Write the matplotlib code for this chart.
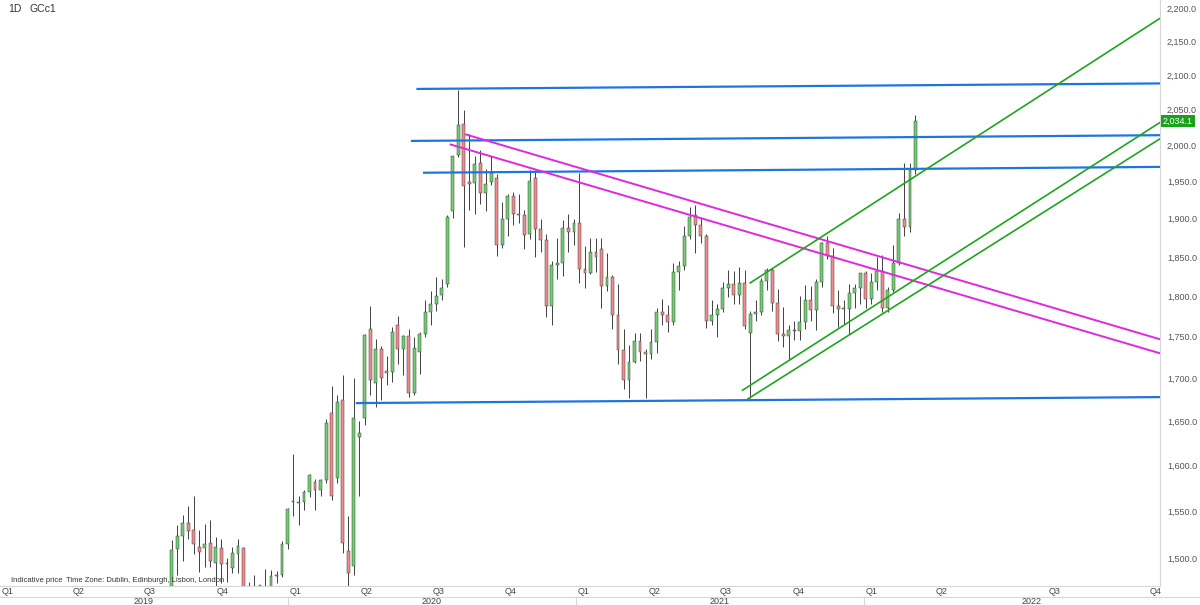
import numpy as np
import pandas as pd
import matplotlib
matplotlib.use('Agg')
import matplotlib.pyplot as plt
import matplotlib.transforms as mtransforms
from matplotlib.ticker import FixedLocator, FuncFormatter, NullLocator
from matplotlib.lines import Line2D

plt.rcParams['font.family'] = ['Liberation Sans', 'DejaVu Sans']

# GCc1 weekly OHLC, weeks starting 2019-07-29
opens = [1420, 1442, 1509, 1523, 1537, 1530, 1512, 1511, 1516, 1495, 1511, 1494, 1490, 1504,
         1510, 1460, 1468, 1462, 1470, 1465, 1481, 1482, 1515,
         1560, 1559, 1560, 1571, 1582, 1573, 1584, 1660, 1586, 1675, 1507, 1492, 1632, 1654,
         1760, 1695, 1735, 1707, 1708, 1764, 1735, 1751, 1683, 1732, 1753, 1780, 1790, 1802,
         1815, 1910, 1986, 2030, 1950, 1948, 1975, 1934, 1950, 1955, 1866, 1900, 1930, 1906,
         1905, 1880, 1955, 1886, 1872, 1788, 1840, 1843, 1888, 1883,
         1895, 1835, 1830, 1857, 1860, 1813, 1824, 1777, 1734, 1698, 1720, 1745, 1732, 1729,
         1744, 1780, 1777, 1768, 1831, 1838, 1877, 1905, 1892, 1877, 1769, 1777, 1784, 1810,
         1815, 1802, 1817, 1755, 1778, 1781, 1819, 1833, 1792, 1754, 1751, 1758, 1757, 1768,
         1796, 1783, 1818, 1868, 1852, 1788, 1784, 1784, 1804, 1811,
         1829, 1797, 1818, 1832, 1786, 1808, 1842, 1900, 1889, 1966]
highs = [1452, 1519, 1535, 1546, 1555, 1566, 1530, 1536, 1540, 1522, 1520, 1500, 1512, 1520,
         1512, 1475, 1482, 1472, 1489, 1487, 1486, 1518, 1553,
         1613, 1566, 1573, 1590, 1585, 1585, 1653, 1691, 1680, 1704, 1545, 1700, 1650, 1753,
         1788, 1747, 1739, 1727, 1762, 1775, 1752, 1760, 1750, 1756, 1796, 1807, 1824, 1822,
         1905, 1985, 2078, 2050, 2015, 1985, 1993, 1967, 1985, 1960, 1922, 1933, 1936, 1933,
         1912, 1966, 1966, 1900, 1880, 1845, 1875, 1898, 1907, 1900,
         1962, 1864, 1875, 1875, 1875, 1855, 1827, 1815, 1760, 1740, 1755, 1755, 1735, 1759,
         1785, 1797, 1789, 1843, 1845, 1890, 1916, 1919, 1903, 1880, 1795, 1790, 1818, 1834,
         1832, 1837, 1834, 1782, 1796, 1823, 1836, 1836, 1809, 1787, 1764, 1770, 1800, 1814,
         1813, 1822, 1870, 1877, 1862, 1808, 1795, 1815, 1815, 1830,
         1832, 1830, 1850, 1853, 1812, 1865, 1908, 1976, 1975, 2042]
lows = [1400, 1440, 1482, 1497, 1520, 1504, 1485, 1491, 1491, 1459, 1474, 1475, 1484, 1484,
        1456, 1445, 1458, 1453, 1458, 1460, 1474, 1480, 1509,
        1545, 1535, 1551, 1565, 1551, 1566, 1580, 1562, 1580, 1505, 1451, 1482, 1566, 1646,
        1680, 1666, 1675, 1692, 1696, 1717, 1704, 1678, 1680, 1705, 1750, 1764, 1782, 1796,
        1812, 1901, 1983, 1863, 1912, 1906, 1920, 1910, 1945, 1851, 1862, 1877, 1892, 1895,
        1860, 1874, 1850, 1856, 1774, 1764, 1822, 1826, 1857, 1865,
        1817, 1810, 1828, 1831, 1785, 1807, 1759, 1717, 1687, 1677, 1718, 1721, 1677, 1723,
        1730, 1765, 1756, 1765, 1808, 1833, 1874, 1855, 1868, 1761, 1765, 1750, 1780, 1799,
        1790, 1791, 1760, 1677, 1770, 1777, 1808, 1782, 1745, 1738, 1722, 1746, 1746, 1760,
        1770, 1758, 1812, 1847, 1779, 1762, 1766, 1753, 1785, 1790,
        1785, 1791, 1808, 1781, 1780, 1806, 1840, 1878, 1882, 1960]
closes = [1440, 1508, 1523, 1537, 1529, 1515, 1506, 1515, 1497, 1512, 1494, 1494, 1505, 1513,
          1462, 1468, 1463, 1472, 1465, 1481, 1481, 1515, 1552,
          1560, 1560, 1571, 1589, 1573, 1584, 1648, 1566, 1672, 1516, 1484, 1654, 1637, 1752,
          1698, 1735, 1700, 1709, 1756, 1735, 1751, 1683, 1737, 1753, 1780, 1790, 1801, 1810,
          1902, 1985, 2028, 1944, 1947, 1974, 1934, 1947, 1962, 1866, 1900, 1930, 1906, 1905,
          1879, 1951, 1886, 1872, 1788, 1840, 1843, 1888, 1883, 1895,
          1835, 1830, 1857, 1850, 1813, 1824, 1777, 1734, 1698, 1720, 1745, 1732, 1729, 1744,
          1780, 1777, 1768, 1831, 1838, 1877, 1902, 1892, 1877, 1769, 1777, 1784, 1810, 1815,
          1802, 1817, 1763, 1778, 1781, 1819, 1833, 1792, 1754, 1751, 1758, 1757, 1768, 1796,
          1783, 1818, 1868, 1852, 1788, 1784, 1784, 1804, 1811, 1829,
          1797, 1818, 1832, 1786, 1808, 1842, 1900, 1889, 1966, 2034]
last_price = 2034.1

# trend lines (x in trading-day index from 2019-01-01, price at start / at right edge)
blue_x0 = [379, 374, 385, 324]
blue_p0 = [2080, 2006, 1962, 1671]
blue_p1 = [2088, 2014, 1970, 1678]
magenta_x0 = [423, 409]
magenta_p0 = [2015, 2001]
magenta_p1 = [1747, 1730]
green_x0 = [681, 674, 679]
green_p0 = [1817, 1686, 1676]
green_p1 = [2185, 2032, 2009]

quarter_dates = ['2019-01-01', '2019-04-01', '2019-07-01', '2019-10-01',
                 '2020-01-01', '2020-04-01', '2020-07-01', '2020-10-01',
                 '2021-01-01', '2021-04-01', '2021-07-01', '2021-10-01',
                 '2022-01-01', '2022-04-01']
future_quarters = [950, 1042]  # Q3/Q4 2022, stretched future axis
years = ['2019', '2020', '2021', '2022']

ORIGIN = '2019-01-01'
X_END = 1053


def bar_pos(dates):
    return np.busday_count(ORIGIN, np.array(dates, dtype='datetime64[D]'))


week_start = pd.date_range('2019-07-29', periods=len(closes), freq='W-MON')
x = bar_pos(week_start.values.astype('datetime64[D]')) + 2
o, h, l, c = map(np.array, (opens, highs, lows, closes))

fig = plt.figure(figsize=(12, 6.06), dpi=100)
ax = fig.add_axes([0, 1 - 586 / 606, 1160 / 1200, 586 / 606])

up = c >= o
ax.vlines(x, l, h, color='#404040', lw=0.7, zorder=2)
ax.bar(x, np.maximum(np.abs(c - o), 1), bottom=np.minimum(o, c), width=2.6,
       color=np.where(up, '#6fcf6f', '#f28b8b'), edgecolor='#404040', linewidth=0.35, zorder=3)

for x0, p0, p1 in zip(blue_x0, blue_p0, blue_p1):
    ax.plot([x0, X_END], [p0, p1], color='#1f74e0', lw=1.6, zorder=4)
for x0, p0, p1 in zip(magenta_x0, magenta_p0, magenta_p1):
    ax.plot([x0, X_END], [p0, p1], color='#e028e0', lw=1.4, zorder=4)
for x0, p0, p1 in zip(green_x0, green_p0, green_p1):
    ax.plot([x0, X_END], [p0, p1], color='#1fa51f', lw=1.2, zorder=4)

ax.set_yscale('log')
ax.set_xlim(0, X_END)
ax.set_ylim(1471, 2213)
ax.yaxis.tick_right()
ax.yaxis.set_major_locator(FixedLocator(np.arange(1500, 2201, 50)))
ax.yaxis.set_minor_locator(NullLocator())
ax.yaxis.set_major_formatter(FuncFormatter(lambda v, _: f'{v:,.1f}'))
ax.tick_params(axis='y', length=0, pad=5, labelsize=6.5, labelcolor='#555555')
ax.set_xticks([])
for s in ['top', 'left']:
    ax.spines[s].set_visible(False)
for s in ['right', 'bottom']:
    ax.spines[s].set_color('#d6d6d6')
    ax.spines[s].set_linewidth(0.8)

ax.text(1.0025, last_price, f'{last_price:,.1f}', transform=mtransforms.blended_transform_factory(ax.transAxes, ax.transData),
        va='center', ha='left', fontsize=6.5, color='white',
        bbox=dict(boxstyle='square,pad=0.18', fc='#19a319', ec='none'))

# two-row time axis
trans = mtransforms.blended_transform_factory(ax.transData, fig.transFigure)
q_pos = list(bar_pos(quarter_dates)) + future_quarters
q_lab = ['Q1', 'Q2', 'Q3', 'Q4'] * 4
for xp, lab in zip(q_pos, q_lab):
    ax.text(xp + 1.5, 1 - 592 / 606, lab, transform=trans, fontsize=6.5, color='#444444',
            va='center', ha='left', clip_on=False)
fig_end = X_END * 1200 / 1160
year_bounds = [0, bar_pos(['2020-01-01'])[0], bar_pos(['2021-01-01'])[0], bar_pos(['2022-01-01'])[0], fig_end]
for i, yr in enumerate(years):
    ax.text((year_bounds[i] + year_bounds[i + 1]) / 2, 1 - 601 / 606, yr, transform=trans,
            fontsize=6.5, color='#444444', va='center', ha='center', clip_on=False)
for xb in year_bounds[1:4]:
    ax.add_artist(Line2D([xb, xb], [1 - 597 / 606, 0], transform=trans, color='#d6d6d6', lw=0.8, clip_on=False))
fig.add_artist(Line2D([0, 1], [1 - 597 / 606] * 2, color='#d6d6d6', lw=0.8))
fig.add_artist(Line2D([0, 1], [0.002, 0.002], color='#d6d6d6', lw=0.8))

fig.text(8 / 1200, 1 - 9 / 606, '1D', fontsize=7.5, color='#333333', va='center')
fig.text(30 / 1200, 1 - 9 / 606, 'GCc1', fontsize=7.5, color='#333333', va='center')
fig.text(11 / 1200, 1 - 580 / 606, 'Indicative price', fontsize=5.5, color='#333333', va='center')
fig.text(66 / 1200, 1 - 580 / 606, 'Time Zone: Dublin, Edinburgh, Lisbon, London', fontsize=5.5,
         color='#333333', va='center')

fig.savefig('out.png', dpi=100, facecolor='white')
